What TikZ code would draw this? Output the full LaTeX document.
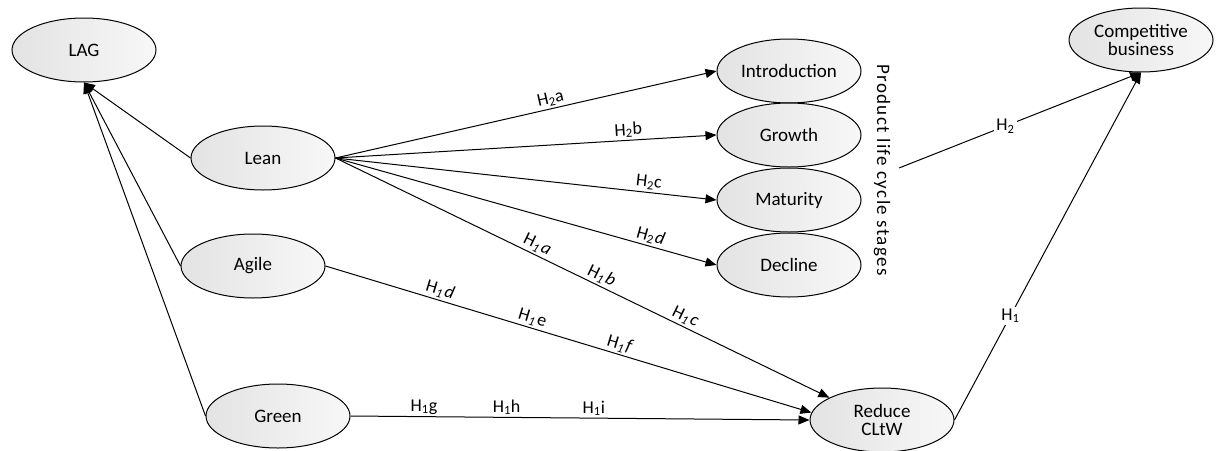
\documentclass[tikz,border=0pt]{standalone}
\usepackage{fontspec}
\setmainfont{Carlito}
\newfontfamily\spacedfont[LetterSpace=7]{Carlito}
\usetikzlibrary{shapes.geometric,arrows.meta}
\newcommand{\Hi}[1]{H\textsubscript{\textit{1}}\kern1.5pt#1}
\begin{document}
\begin{tikzpicture}[x=1pt,y=-1pt,
  ell/.style={ellipse, draw=black, line width=1pt, minimum width=144pt, minimum height=64pt,
    inner sep=0pt, align=center, left color=gray!22, middle color=white, right color=gray!6,
    font=\fontsize{19}{21}\selectfont},
  conn/.style={line width=1pt, draw=black},
  arr/.style={conn, -{Triangle[length=11pt,width=9pt]}},
  lab/.style={font=\fontsize{18}{20}\selectfont, inner sep=2pt},
  cut/.style={font=\fontsize{18}{20}\selectfont, fill=white, inner sep=2pt}
]
\useasboundingbox (0,0) rectangle (1218,450);
\node[ell] (LAG) at (84,50) {LAG};
\node[ell] (Lean) at (263,158) {Lean};
\node[ell] (Agile) at (253,266) {Agile};
\node[ell] (Green) at (278,416) {Green};
\node[ell] (Intro) at (789,71) {Introduction};
\node[ell] (Growth) at (789,135) {Growth};
\node[ell] (Maturity) at (789,200) {Maturity};
\node[ell] (Decline) at (789,265) {Decline};
\node[ell] (Comp) at (1141,40) {Competitive\\[-3pt]business};
\node[ell] (Reduce) at (882,420) {Reduce\\[-3pt]CLtW};
\node[font=\fontsize{19}{21}\spacedfont, rotate=-90, inner sep=1pt] (PLC) at (882,170) {Product life cycle stages};
\coordinate (plcout) at (899,168);

\draw[arr] (Lean.west) -- (LAG.south);
\draw[arr] (Agile.west) -- (LAG.south);
\draw[arr] (Green.west) -- (LAG.south);

\draw[arr] (Lean.east) -- node[lab, pos=0.57, above, sloped] {H\textsubscript{2}a} (Intro.west);
\draw[arr] (Lean.east) -- node[lab, pos=0.77, above, sloped] {H\textsubscript{2}b} (Growth.west);
\draw[arr] (Lean.east) -- node[lab, pos=0.82, above, sloped] {H\textsubscript{2}c} (Maturity.west);
\draw[arr] (Lean.east) -- node[lab, pos=0.82, above, sloped] {H\textsubscript{2}\kern1pt\textit{d}} (Decline.west);
\draw[arr] (Lean.east) --
  node[lab, pos=0.40, above, sloped] {\Hi{\textit{a}}}
  node[lab, pos=0.53, above, sloped] {\Hi{\textit{b}}}
  node[lab, pos=0.70, above, sloped] {\Hi{\textit{c}}}
  (Reduce.157);
\draw[arr] (Agile.east) --
  node[lab, pos=0.23, above, sloped] {\Hi{\textit{d}}}
  node[lab, pos=0.42, above, sloped] {\Hi{e}}
  node[lab, pos=0.60, above, sloped] {\Hi{\textit{f}}}
  (Reduce.174);
\draw[arr] (Green.east) --
  node[lab, pos=0.16, above] {H\textsubscript{1}g}
  node[lab, pos=0.34, above] {H\textsubscript{1}h}
  node[lab, pos=0.53, above] {H\textsubscript{1}i}
  (Reduce.west);
\draw[arr] (Reduce.east) -- node[cut, pos=0.3] {H\textsubscript{1}} (Comp.south);
\draw[arr] (plcout) -- node[cut, pos=0.44] {H\textsubscript{2}} (Comp.south);
\end{tikzpicture}
\end{document}
